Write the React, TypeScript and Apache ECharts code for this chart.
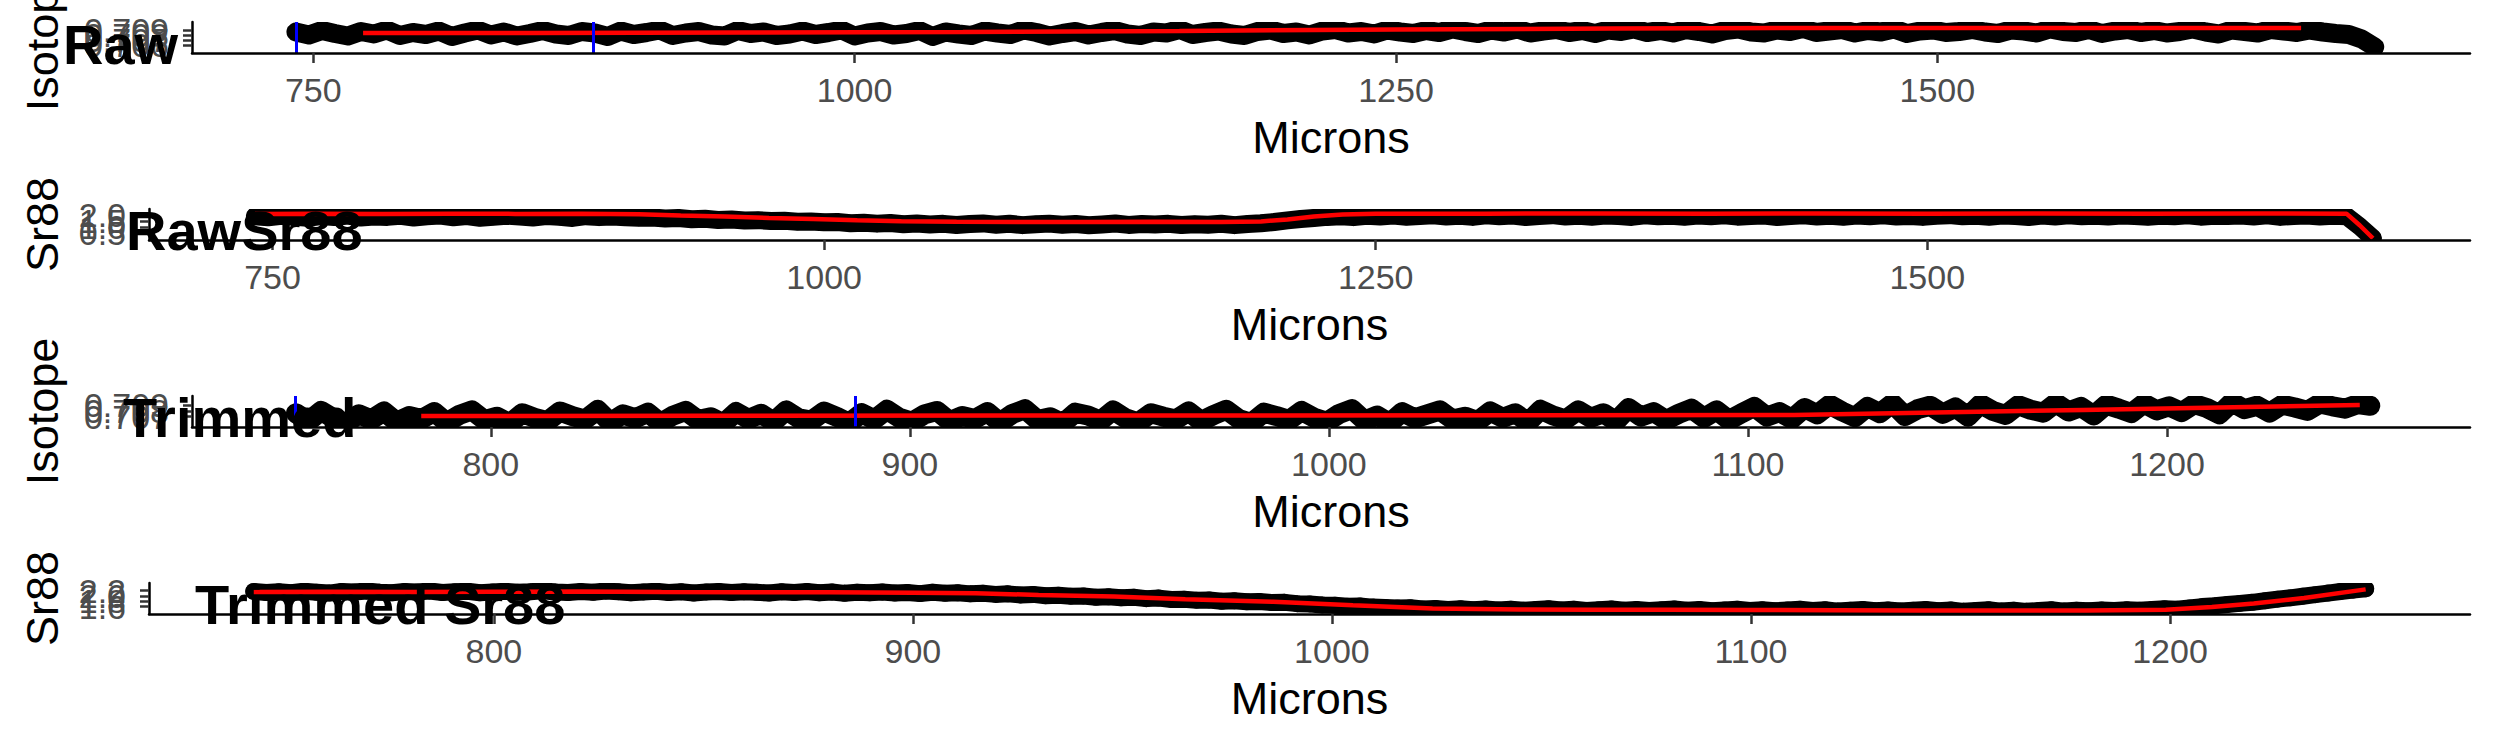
import React, { useEffect, useRef } from "react";
import * as echarts from "echarts";

const W = 2495;
const H = 749;
const FONT = '"Liberation Sans", Arial, Helvetica, sans-serif';

// ---- sampling grids (microns) ----
const rawStart = 742;
const rawStep = 6;
const trimIsoStart = 753.5;
const trimIsoStep = 3;
const trimSrStart = 742.7;
const trimSrStep = 3;

// ---- Raw isotope ratio ----
const rawIsotope = [
  0.7086, 0.7080, 0.7089, 0.7083, 0.7078, 0.7087, 0.7082, 0.7090, 0.7079, 0.7085,
  0.7081, 0.7088, 0.7077, 0.7084, 0.7090, 0.7080, 0.7086, 0.7078, 0.7083, 0.7089,
  0.7082, 0.7079, 0.7087, 0.7084, 0.7077, 0.7088, 0.7081, 0.7085, 0.7090, 0.7079,
  0.7084, 0.7087, 0.7080, 0.7078, 0.7089, 0.7083, 0.7086, 0.7079, 0.7082, 0.7088,
  0.7081, 0.7085, 0.7090, 0.7078, 0.7084, 0.7087, 0.7080, 0.7083, 0.7089, 0.7077,
  0.7086, 0.7082, 0.7079, 0.7088, 0.7084, 0.7081, 0.7090, 0.7085, 0.7078, 0.7083,
  0.7087, 0.7080, 0.7085, 0.7089, 0.7082, 0.7079, 0.7086, 0.7084, 0.7091, 0.7081,
  0.7085, 0.7088, 0.7082, 0.7079, 0.7087, 0.7090, 0.7083, 0.7086, 0.7080, 0.7088,
  0.7091, 0.7084, 0.7087, 0.7082, 0.7090, 0.7086, 0.7083, 0.7089, 0.7085, 0.7092,
  0.7087, 0.7083, 0.7090, 0.7086, 0.7092, 0.7084, 0.7088, 0.7091, 0.7085, 0.7089,
  0.7083, 0.7090, 0.7087, 0.7092, 0.7085, 0.7089, 0.7084, 0.7091, 0.7087, 0.7082,
  0.7089, 0.7092, 0.7086, 0.7084, 0.7090, 0.7087, 0.7093, 0.7085, 0.7088, 0.7091,
  0.7084, 0.7089, 0.7086, 0.7092, 0.7083, 0.7088, 0.7090, 0.7085, 0.7087, 0.7091,
  0.7086, 0.7083, 0.7090, 0.7088, 0.7084, 0.7092, 0.7087, 0.7085, 0.7091, 0.7083,
  0.7088, 0.7091, 0.7085, 0.7089, 0.7084, 0.7087, 0.7092, 0.7086, 0.7082, 0.7090,
  0.7087, 0.7084, 0.7091, 0.7088, 0.7085, 0.7090, 0.7086, 0.7083, 0.7081, 0.7072,
  0.7056,
];
const rawIsotopeTrend: number[][] = [
  [773, 0.7084], [850, 0.7084], [950, 0.7085], [1050, 0.7086], [1150, 0.7088],
  [1250, 0.7091], [1350, 0.7093], [1450, 0.7094], [1550, 0.7094], [1668, 0.7094],
];
const rawIsotopeCuts = [742, 879.5];

// ---- Raw Sr88 ----
const rawSr88 = [
  1.93, 1.83, 1.97, 1.88, 1.80, 1.95, 1.86, 1.99, 1.82, 1.91,
  1.87, 1.96, 1.81, 1.92, 1.98, 1.84, 1.94, 1.79, 1.89, 1.97,
  1.90, 1.82, 1.95, 1.88, 1.78, 1.93, 1.85, 1.91, 1.83, 1.80,
  1.81, 1.73, 1.77, 1.67, 1.71, 1.61, 1.65, 1.56, 1.59, 1.51,
  1.53, 1.45, 1.48, 1.40, 1.43, 1.32, 1.37, 1.29, 1.34, 1.23,
  1.30, 1.21, 1.27, 1.18, 1.25, 1.31, 1.20, 1.28, 1.16, 1.24,
  1.29, 1.19, 1.26, 1.15, 1.22, 1.30, 1.18, 1.25, 1.21, 1.27,
  1.17, 1.24, 1.20, 1.28, 1.16, 1.26, 1.32, 1.43, 1.57, 1.69,
  1.78, 1.87, 1.92, 1.85, 1.96, 1.90, 1.99, 1.88, 1.95, 2.01,
  1.91, 1.97, 1.87, 2.00, 1.93, 1.98, 1.86, 1.95, 2.02, 1.90,
  1.96, 1.89, 1.99, 1.94, 1.87, 2.01, 1.92, 1.97, 1.88, 1.98,
  1.93, 2.00, 1.89, 1.95, 1.99, 1.86, 1.94, 2.01, 1.91, 1.96,
  1.88, 1.98, 1.93, 2.00, 1.90, 1.95, 1.87, 1.97, 2.02, 1.92,
  1.96, 1.89, 1.99, 1.94, 1.86, 1.98, 1.91, 2.00, 1.93, 1.97,
  1.90, 1.99, 1.95, 1.88, 1.97, 1.92, 2.01, 1.89, 1.96, 1.94,
  1.98, 1.91, 2.00, 1.87, 1.95, 1.99, 1.90, 1.96, 1.93, 1.05,
  0.03,
];
const rawSr88Trend: number[][] = [
  [742, 2.12], [770, 2.14], [800, 2.12], [830, 2.15], [860, 2.13], [890, 2.14],
  [916, 2.10], [935, 2.00], [955, 1.90], [975, 1.78], [995, 1.68], [1015, 1.58],
  [1035, 1.50], [1060, 1.45], [1090, 1.44], [1120, 1.43], [1150, 1.45], [1180, 1.42],
  [1198, 1.48], [1210, 1.65], [1222, 1.90], [1235, 2.08], [1250, 2.14], [1300, 2.15],
  [1350, 2.16], [1400, 2.15], [1450, 2.16], [1500, 2.15], [1550, 2.16], [1600, 2.15],
  [1650, 2.16], [1690, 2.15], [1696, 1.15], [1702, 0.03],
];

// ---- Trimmed isotope ratio ----
const trimmedIsotope = [
  0.7076, 0.7062, 0.7080, 0.7067, 0.7059, 0.7074, 0.7065, 0.7079, 0.7061, 0.7071,
  0.7066, 0.7078, 0.7060, 0.7073, 0.7081, 0.7064, 0.7070, 0.7058, 0.7076, 0.7068,
  0.7062, 0.7079, 0.7071, 0.7065, 0.7082, 0.7060, 0.7074, 0.7067, 0.7077, 0.7059,
  0.7072, 0.7080, 0.7064, 0.7069, 0.7058, 0.7078, 0.7066, 0.7075, 0.7061, 0.7081,
  0.7067, 0.7063, 0.7079, 0.7070, 0.7059, 0.7076, 0.7065, 0.7082, 0.7068, 0.7061,
  0.7074, 0.7080, 0.7062, 0.7071, 0.7066, 0.7078, 0.7060, 0.7075, 0.7083, 0.7064,
  0.7069, 0.7058, 0.7077, 0.7072, 0.7063, 0.7081, 0.7067, 0.7060, 0.7076, 0.7070,
  0.7065, 0.7079, 0.7062, 0.7073, 0.7082, 0.7066, 0.7059, 0.7077, 0.7071, 0.7064,
  0.7080, 0.7068, 0.7061, 0.7075, 0.7083, 0.7063, 0.7072, 0.7059, 0.7078, 0.7067,
  0.7074, 0.7081, 0.7065, 0.7070, 0.7062, 0.7079, 0.7068, 0.7076, 0.7060, 0.7082,
  0.7072, 0.7065, 0.7081, 0.7068, 0.7076, 0.7062, 0.7085, 0.7070, 0.7078, 0.7064,
  0.7075, 0.7084, 0.7068, 0.7081, 0.7064, 0.7076, 0.7087, 0.7070, 0.7078, 0.7066,
  0.7085, 0.7074, 0.7091, 0.7079, 0.7069, 0.7087, 0.7076, 0.7093, 0.7071, 0.7083,
  0.7089, 0.7075, 0.7086, 0.7070, 0.7092, 0.7080, 0.7073, 0.7090, 0.7082, 0.7077,
  0.7094, 0.7079, 0.7087, 0.7072, 0.7091, 0.7084, 0.7076, 0.7093, 0.7081, 0.7088,
  0.7078, 0.7092, 0.7085, 0.7074, 0.7095, 0.7083, 0.7089, 0.7077, 0.7091, 0.7086,
  0.7080, 0.7093, 0.7088, 0.7084, 0.7092, 0.7089,
];
const trimmedIsotopeTrend: number[][] = [
  [783.4, 0.70712], [850, 0.70715], [950, 0.7072], [1050, 0.70725], [1111, 0.70729],
  [1180, 0.70818], [1246, 0.70903],
];
const trimmedIsotopeCuts = [753.4, 887];

// ---- Trimmed Sr88 ----
const trimmedSr88 = [
  2.17, 2.13, 2.16, 2.12, 2.18, 2.14, 2.11, 2.17, 2.15, 2.19,
  2.14, 2.12, 2.17, 2.15, 2.19, 2.13, 2.16, 2.18, 2.12, 2.15,
  2.18, 2.14, 2.16, 2.20, 2.15, 2.13, 2.17, 2.14, 2.19, 2.16,
  2.12, 2.15, 2.18, 2.13, 2.16, 2.11, 2.15, 2.17, 2.13, 2.16,
  2.14, 2.11, 2.16, 2.13, 2.17, 2.12, 2.15, 2.10, 2.14, 2.12,
  2.15, 2.11, 2.13, 2.09, 2.14, 2.10, 2.12, 2.08, 2.10, 2.06,
  2.08, 2.04, 2.06, 2.01, 2.03, 1.99, 2.00, 1.95, 1.97, 1.93,
  1.95, 1.90, 1.92, 1.87, 1.88, 1.84, 1.85, 1.80, 1.82, 1.78,
  1.79, 1.75, 1.76, 1.71, 1.70, 1.66, 1.65, 1.61, 1.62, 1.58,
  1.57, 1.55, 1.56, 1.51, 1.53, 1.49, 1.52, 1.48, 1.51, 1.47,
  1.50, 1.46, 1.49, 1.52, 1.47, 1.50, 1.45, 1.48, 1.51, 1.46,
  1.49, 1.45, 1.48, 1.51, 1.46, 1.49, 1.44, 1.47, 1.50, 1.45,
  1.48, 1.44, 1.47, 1.50, 1.45, 1.48, 1.43, 1.46, 1.49, 1.44,
  1.47, 1.43, 1.46, 1.49, 1.44, 1.47, 1.42, 1.45, 1.48, 1.43,
  1.46, 1.42, 1.45, 1.48, 1.43, 1.46, 1.44, 1.47, 1.45, 1.48,
  1.46, 1.49, 1.52, 1.50, 1.55, 1.60, 1.63, 1.68, 1.72, 1.76,
  1.82, 1.88, 1.93, 1.99, 2.05, 2.11, 2.17, 2.22, 2.27,
];
const trimmedSr88Trend: number[][] = [
  [742.7, 2.15], [760, 2.16], [780, 2.15], [800, 2.16], [820, 2.17], [840, 2.15],
  [860, 2.14], [880, 2.14], [900, 2.12], [915, 2.1], [930, 2.04], [948, 1.98],
  [965, 1.88], [986, 1.78], [1005, 1.65], [1024, 1.53], [1045, 1.49], [1062, 1.48],
  [1080, 1.48], [1100, 1.47], [1120, 1.46], [1140, 1.45], [1160, 1.45], [1180, 1.45],
  [1199, 1.48], [1210, 1.58], [1220, 1.72], [1232, 1.92], [1246.7, 2.25],
];

// ---- ticks ----
const rawMicronTicks = [750, 1000, 1250, 1500];
const trimmedMicronTicks = [800, 900, 1000, 1100, 1200];
const rawIsotopeTicks = [0.705, 0.706, 0.707, 0.708, 0.709, 0.71];
const trimmedIsotopeTicks = [0.706, 0.707, 0.708, 0.709, 0.71];
const rawSr88Ticks = [0, 0.5, 1, 1.5, 2, 2.5];
const trimmedSr88Ticks = [1.4, 1.6, 1.8, 2.0, 2.2, 2.4];

const panelTitles = ["Raw", "RawSr88", "Trimmed", "Trimmed Sr88"];
const yTitles = ["Isotope", "Sr88", "Isotope", "Sr88"];

const toPoints = (vals: number[], start: number, step: number) =>
  vals.map((v, k) => [start + k * step, v]);

const panels = [
  {
    points: toPoints(rawIsotope, rawStart, rawStep), trend: rawIsotopeTrend, cuts: rawIsotopeCuts,
    xMin: 694, xMax: 1746, xTicks: rawMicronTicks, yMin: 0.7044, yMax: 0.7106, yTicks: rawIsotopeTicks, dec: 3,
    left: 192, top: 22, titleX: 63, titleY: 44, band: 19, dot: 17,
  },
  {
    points: toPoints(rawSr88, rawStart, rawStep), trend: rawSr88Trend, cuts: [] as number[],
    xMin: 694, xMax: 1746, xTicks: rawMicronTicks, yMin: -0.12, yMax: 2.55, yTicks: rawSr88Ticks, dec: 1,
    left: 149, top: 209, titleX: 126, titleY: 230, band: 18, dot: 17,
  },
  {
    points: toPoints(trimmedIsotope, trimIsoStart, trimIsoStep), trend: trimmedIsotopeTrend, cuts: trimmedIsotopeCuts,
    xMin: 728.7, xMax: 1272.3, xTicks: trimmedMicronTicks, yMin: 0.7052, yMax: 0.7106, yTicks: trimmedIsotopeTicks, dec: 3,
    left: 192, top: 396, titleX: 123, titleY: 417, band: 20, dot: 17,
  },
  {
    points: toPoints(trimmedSr88, trimSrStart, trimSrStep), trend: trimmedSr88Trend, cuts: [] as number[],
    xMin: 717.7, xMax: 1271.6, xTicks: trimmedMicronTicks, yMin: 1.32, yMax: 2.49, yTicks: trimmedSr88Ticks, dec: 1,
    left: 149, top: 583, titleX: 195, titleY: 604, band: 17, dot: 17,
  },
];

const PANEL_H = 31;
const RIGHT = 25;

function buildOption() {
  const grid = panels.map((p) => ({
    left: p.left, right: RIGHT, top: p.top, height: PANEL_H,
    containLabel: false, outerBoundsMode: "none",
  }));
  const xAxis = panels.map((p, i) => ({
    type: "value", gridIndex: i, min: p.xMin, max: p.xMax, z: 10,
    axisLine: { show: true, onZero: false, lineStyle: { color: "#000", width: 2.5 } },
    axisTick: { show: true, length: 10, customValues: p.xTicks, lineStyle: { color: "#333333", width: 2.5 } },
    axisLabel: {
      show: true, customValues: p.xTicks, color: "#4D4D4D", fontSize: 34, fontFamily: FONT, margin: 20,
      formatter: (v: number) => String(v),
    },
    splitLine: { show: false },
    name: "Microns", nameLocation: "middle", nameGap: 62, nameMoveOverlap: false,
    nameTextStyle: { color: "#000", fontSize: 45, fontFamily: FONT },
  }));
  const yAxis = panels.map((p, i) => ({
    type: "value", gridIndex: i, min: p.yMin, max: p.yMax, z: 10,
    axisLine: { show: true, onZero: false, lineStyle: { color: "#000", width: 2.5 } },
    axisTick: { show: true, length: 9, customValues: p.yTicks, lineStyle: { color: "#333333", width: 2.5 } },
    axisLabel: {
      show: true, customValues: p.yTicks, color: "#4D4D4D", fontSize: 34, fontFamily: FONT, margin: 23,
      formatter: (v: number) => v.toFixed(p.dec),
    },
    splitLine: { show: false },
  }));
  const series: any[] = [];
  panels.forEach((p, i) => {
    series.push({
      type: "line", xAxisIndex: i, yAxisIndex: i, data: p.points, showSymbol: false, silent: true,
      clip: false, z: 2,
      lineStyle: { color: "#000", width: p.band, join: "round", cap: "round" },
    });
    series.push({
      type: "scatter", xAxisIndex: i, yAxisIndex: i, data: p.points, symbol: "circle", symbolSize: p.dot,
      silent: true, clip: false, z: 2, itemStyle: { color: "#000" },
    });
    series.push({
      type: "line", xAxisIndex: i, yAxisIndex: i, data: p.trend, showSymbol: false, silent: true, z: 3,
      lineStyle: { color: "#FF0000", width: 4.5 },
      markLine: p.cuts.length
        ? {
            silent: true, symbol: ["none", "none"], label: { show: false },
            lineStyle: { color: "#0000FF", width: 3, type: "solid" },
            emphasis: { disabled: true },
            data: p.cuts.map((c) => ({ xAxis: c })),
          }
        : undefined,
    });
  });

  const graphic: any[] = [];
  panels.forEach((p, i) => {
    const w = W - RIGHT - p.left;
    // clip overflow of points beyond the panel, like the panel clipping of the original
    graphic.push({ type: "rect", silent: true, z: 5, shape: { x: p.left + 2, y: p.top + PANEL_H, width: w, height: 12 }, style: { fill: "#fff" } });
    graphic.push({ type: "rect", silent: true, z: 5, shape: { x: p.left + 2, y: p.top - 12, width: w, height: 12 }, style: { fill: "#fff" } });
    graphic.push({
      type: "text", silent: true, z: 20, x: 42, y: p.top + PANEL_H / 2, rotation: Math.PI / 2,
      style: { text: yTitles[i], x: 0, y: 0, align: "center", verticalAlign: "middle", fill: "#000", font: `45px ${FONT}` },
    });
    graphic.push({
      type: "text", silent: true, z: 20, x: p.titleX, y: p.titleY,
      style: { text: panelTitles[i], x: 0, y: 0, align: "left", verticalAlign: "middle", fill: "#000", font: `bold 56px ${FONT}` },
    });
  });

  return {
    animation: false,
    backgroundColor: "#fff",
    textStyle: { fontFamily: FONT },
    grid, xAxis, yAxis, series, graphic,
  };
}

export default function App() {
  const ref = useRef<HTMLDivElement>(null);
  useEffect(() => {
    if (!ref.current) return;
    const chart = echarts.init(ref.current, null, { renderer: "svg", width: W, height: H });
    chart.setOption(buildOption() as any);
    return () => chart.dispose();
  }, []);
  return (
    <div
      ref={ref}
      style={{ position: "absolute", left: 0, top: 0, width: W, height: H, background: "#fff" }}
    />
  );
}
